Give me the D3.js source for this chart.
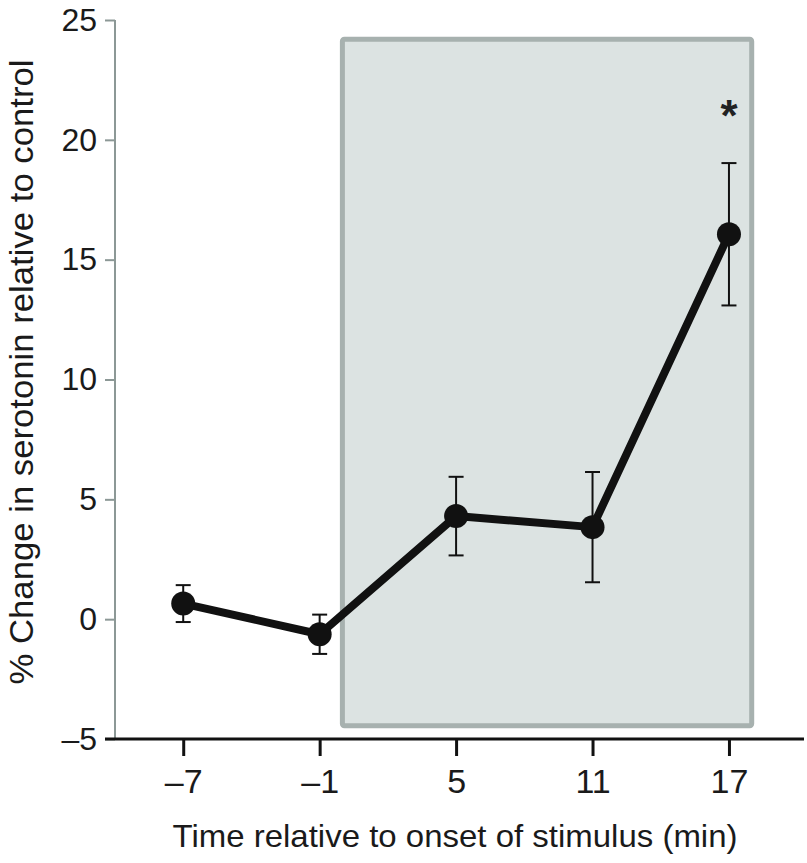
<!DOCTYPE html>
<html>
<head>
<meta charset="utf-8">
<script src="https://cdn.jsdelivr.net/npm/d3@7"></script>
<style>
    body { margin: 0; background: #fff; }
    svg { display: block; font-family: "Liberation Sans", Arial, sans-serif; }
</style>
</head>
<body>
<div id="chart"></div>
<script>
// Data
const times = [-7, -1, 5, 11, 17];
const meanChange = [0.65, -0.63, 4.3, 3.84, 16.06];
const errChange = [0.77, 0.82, 1.64, 2.3, 2.97];
const xTicks = [-7, -1, 5, 11, 17];
const yTicks = [-5, 0, 5, 10, 15, 20, 25];
const significant = [17];
const stimulus = { start: 0, end: 18, top: 24.2, bottom: -4.45 };

const points = times.map((t, i) => ({ t, mean: meanChange[i], err: errChange[i] }));

const width = 807, height = 863;

const svg = d3.select("#chart")
    .append("svg")
    .attr("width", width)
    .attr("height", height);

// Scales
const x = d3.scaleLinear().domain([-10, 20.3]).range([115, 804]);
const y = d3.scaleLinear().domain([-5, 25]).range([739, 20]);

// Stimulus window
svg.append("rect")
    .attr("x", x(stimulus.start))
    .attr("y", y(stimulus.top))
    .attr("width", x(stimulus.end) - x(stimulus.start))
    .attr("height", y(stimulus.bottom) - y(stimulus.top))
    .attr("rx", 2)
    .attr("fill", "#dce3e2")
    .attr("stroke", "#a7b1af")
    .attr("stroke-width", 5);

// Y axis (gray)
const yAxis = svg.append("g")
    .attr("transform", `translate(${x(-10)},0)`)
    .call(d3.axisLeft(y).tickValues(yTicks).tickSize(10).tickPadding(8)
        .tickFormat(d => d < 0 ? "\u2013" + Math.abs(d) : d));
yAxis.select(".domain").attr("stroke", "#8c9896").attr("stroke-width", 2).attr("d", `M0,${y(25)}V${y(-5)}`);
yAxis.selectAll(".tick line").attr("stroke", "#8c9896").attr("stroke-width", 2);
yAxis.selectAll(".tick text").attr("font-size", 32).attr("fill", "#1a1a1a")
    .attr("font-family", "Liberation Sans, Arial, sans-serif");

// X axis (black)
const xAxis = svg.append("g")
    .attr("transform", `translate(0,${y(-5)})`)
    .call(d3.axisBottom(x).tickValues(xTicks).tickSize(17).tickPadding(13)
        .tickFormat(d => d < 0 ? "\u2013" + Math.abs(d) : d));
xAxis.select(".domain").attr("stroke", "#111").attr("stroke-width", 3)
    .attr("d", `M${x(-10) - 10},0H${x(20.3)}`);
xAxis.selectAll(".tick line").attr("stroke", "#111").attr("stroke-width", 3);
xAxis.selectAll(".tick text").attr("font-size", 34).attr("fill", "#1a1a1a")
    .attr("font-family", "Liberation Sans, Arial, sans-serif");

// Axis titles
svg.append("text")
    .attr("x", 455)
    .attr("y", 847)
    .attr("text-anchor", "middle")
    .attr("font-size", 32)
    .attr("textLength", 565)
    .attr("lengthAdjust", "spacingAndGlyphs")
    .attr("fill", "#1a1a1a")
    .text("Time relative to onset of stimulus (min)");

svg.append("text")
    .attr("transform", `translate(33,372) rotate(-90)`)
    .attr("text-anchor", "middle")
    .attr("font-size", 33)
    .attr("textLength", 625)
    .attr("lengthAdjust", "spacingAndGlyphs")
    .attr("fill", "#1a1a1a")
    .text("% Change in serotonin relative to control");

// Error bars
const eb = svg.append("g").attr("stroke", "#111").attr("stroke-width", 2);
eb.selectAll(".err")
    .data(points)
    .enter()
    .append("line")
    .attr("x1", d => x(d.t)).attr("x2", d => x(d.t))
    .attr("y1", d => y(d.mean + d.err)).attr("y2", d => y(d.mean - d.err));
eb.selectAll(".cap-top")
    .data(points)
    .enter()
    .append("line")
    .attr("x1", d => x(d.t) - 7.5).attr("x2", d => x(d.t) + 7.5)
    .attr("y1", d => y(d.mean + d.err)).attr("y2", d => y(d.mean + d.err));
eb.selectAll(".cap-bottom")
    .data(points)
    .enter()
    .append("line")
    .attr("x1", d => x(d.t) - 7.5).attr("x2", d => x(d.t) + 7.5)
    .attr("y1", d => y(d.mean - d.err)).attr("y2", d => y(d.mean - d.err));

// Mean line
svg.append("path")
    .datum(points)
    .attr("fill", "none")
    .attr("stroke", "#111")
    .attr("stroke-width", 8)
    .attr("stroke-linejoin", "round")
    .attr("d", d3.line().x(d => x(d.t)).y(d => y(d.mean)));

// Points
svg.selectAll(".pt")
    .data(points)
    .enter()
    .append("circle")
    .attr("cx", d => x(d.t))
    .attr("cy", d => y(d.mean))
    .attr("r", 12)
    .attr("fill", "#111");

// Significance marker
svg.selectAll(".sig")
    .data(points.filter(d => significant.includes(d.t)))
    .enter()
    .append("text")
    .attr("x", d => x(d.t))
    .attr("y", y(21.5))
    .attr("dy", "0.62em")
    .attr("text-anchor", "middle")
    .attr("font-size", 44)
    .attr("font-weight", "bold")
    .attr("fill", "#222")
    .text("*");
</script>
</body>
</html>
